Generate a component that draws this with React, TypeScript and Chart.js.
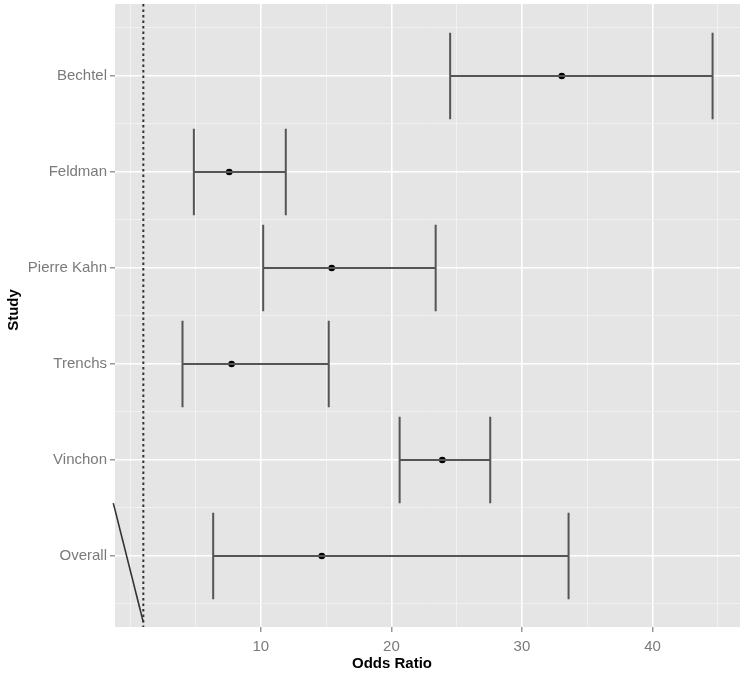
import React, { useEffect, useRef } from "react";
import { Chart, registerables } from "chart.js";
Chart.register(...registerables);

const studies = ["Bechtel", "Feldman", "Pierre Kahn", "Trenchs", "Vinchon", "Overall"];
const oddsRatio = [33.05, 7.58, 15.43, 7.76, 23.9, 14.67];
const lowerCI = [24.5, 4.87, 10.18, 4.0, 20.63, 6.35];
const upperCI = [44.6, 11.91, 23.39, 15.2, 27.57, 33.57];
const xMajorTicks = [10, 20, 30, 40];
const xMinorTicks = [0, 5, 15, 25, 35, 45];
const refLineX = 1;
const diagonalX = [-1.3, 1.0];
const diagonalY = [4.45, 5.69];
const xTitle = "Odds Ratio";
const yTitle = "Study";

const X_MIN = -1.17;
const X_MAX = 46.7;
const Y_MIN = -0.75;
const Y_MAX = 5.74;
const CAP = 0.45;

export default function App() {
  const ref = useRef<HTMLCanvasElement | null>(null);

  useEffect(() => {
    document.body.style.margin = "0";
    document.body.style.overflow = "hidden";
    const canvas = ref.current;
    if (!canvas) return;

    const barColor = "#555555";
    const datasets: any[] = [];

    studies.forEach((s, i) => {
      datasets.push({
        label: s + " CI",
        data: [{ x: lowerCI[i], y: i }, { x: upperCI[i], y: i }],
        showLine: true, borderColor: barColor, borderWidth: 2, pointRadius: 0,
      });
      datasets.push({
        label: s + " low cap",
        data: [{ x: lowerCI[i], y: i - CAP }, { x: lowerCI[i], y: i + CAP }],
        showLine: true, borderColor: barColor, borderWidth: 2, pointRadius: 0,
      });
      datasets.push({
        label: s + " high cap",
        data: [{ x: upperCI[i], y: i - CAP }, { x: upperCI[i], y: i + CAP }],
        showLine: true, borderColor: barColor, borderWidth: 2, pointRadius: 0,
      });
    });

    datasets.push({
      label: "OR",
      data: studies.map((_, i) => ({ x: oddsRatio[i], y: i })),
      showLine: false, pointRadius: 3.3, pointBackgroundColor: "#000", pointBorderColor: "#000", pointBorderWidth: 0,
    });

    datasets.push({
      label: "ref",
      data: [{ x: refLineX, y: Y_MIN }, { x: refLineX, y: Y_MAX }],
      showLine: true, borderColor: "#333", borderWidth: 2, borderDash: [2.5, 3], pointRadius: 0,
    });

    datasets.push({
      label: "diag",
      data: diagonalX.map((x, i) => ({ x, y: diagonalY[i] })),
      showLine: true, borderColor: "#333", borderWidth: 1.6, pointRadius: 0, clip: false,
    });

    const family = "'Liberation Sans', Arial, sans-serif";

    const panelBg = {
      id: "panelBg",
      beforeDraw(chart: any) {
        const { ctx, chartArea } = chart;
        ctx.save();
        ctx.fillStyle = "#e5e5e5";
        ctx.fillRect(chartArea.left, chartArea.top, chartArea.right - chartArea.left, chartArea.bottom - chartArea.top);
        ctx.restore();
      },
      afterDraw(chart: any) {
        const { ctx } = chart;
        ctx.save();
        ctx.fillStyle = "#000";
        ctx.font = `bold 15px ${family}`;
        ctx.textAlign = "center";
        ctx.textBaseline = "middle";
        ctx.fillText(xTitle, 392, 664);
        ctx.translate(14, 310);
        ctx.rotate(-Math.PI / 2);
        ctx.fillText(yTitle, 0, 0);
        ctx.restore();
      },
    };

    const font = { family, size: 15 };

    const chart = new Chart(canvas, {
      type: "scatter",
      data: { datasets },
      options: {
        animation: false,
        responsive: false,
        maintainAspectRatio: false,
        layout: { padding: { top: 3, right: 3, left: 0, bottom: 0 } },
        plugins: { legend: { display: false }, tooltip: { enabled: false } },
        scales: {
          x: {
            type: "linear",
            min: X_MIN,
            max: X_MAX,
            afterBuildTicks(scale: any) {
              scale.ticks = [...xMinorTicks, ...xMajorTicks].sort((a, b) => a - b).map((v) => ({ value: v }));
            },
            afterFit(scale: any) {
              scale.height = 48;
              scale.paddingLeft = 0;
              scale.paddingRight = 0;
            },
            border: { display: false },
            grid: {
              color: (c: any) => (xMajorTicks.includes(c.tick?.value) ? "#ffffff" : "#f2f2f2"),
              lineWidth: (c: any) => (xMajorTicks.includes(c.tick?.value) ? 1.6 : 0.9),
              tickColor: (c: any) => (xMajorTicks.includes(c.tick?.value) ? "#7f7f7f" : "rgba(0,0,0,0)"),
              tickLength: 5,
              tickWidth: 1.2,
            },
            ticks: {
              autoSkip: false, maxRotation: 0, color: "#7a7a7a", font, padding: 6,
              callback: (v: any) => (xMajorTicks.includes(Number(v)) ? String(v) : ""),
            },
          },
          y: {
            type: "linear",
            reverse: true,
            min: Y_MIN,
            max: Y_MAX,
            afterBuildTicks(scale: any) {
              const t: any[] = [];
              for (let i = -1; i <= 11; i++) t.push({ value: i / 2 });
              scale.ticks = t;
            },
            afterFit(scale: any) {
              scale.width = 115;
              scale.paddingTop = 0;
              scale.paddingBottom = 0;
            },
            border: { display: false },
            grid: {
              color: (c: any) => (Number.isInteger(c.tick?.value) ? "#ffffff" : "#f2f2f2"),
              lineWidth: (c: any) => (Number.isInteger(c.tick?.value) ? 1.6 : 0.9),
              tickColor: (c: any) => (Number.isInteger(c.tick?.value) ? "#7f7f7f" : "rgba(0,0,0,0)"),
              tickLength: 5,
              tickWidth: 1.2,
            },
            ticks: {
              autoSkip: false, color: "#7a7a7a", font, padding: 3,
              callback: (v: any) => (Number.isInteger(Number(v)) && studies[Number(v)] ? studies[Number(v)] : ""),
            },
          },
        },
      },
      plugins: [panelBg],
    });

    return () => chart.destroy();
  }, []);

  return (
    <div style={{ width: 744, height: 675 }}>
      <canvas ref={ref} width={744} height={675} style={{ display: "block", width: 744, height: 675 }} />
    </div>
  );
}
